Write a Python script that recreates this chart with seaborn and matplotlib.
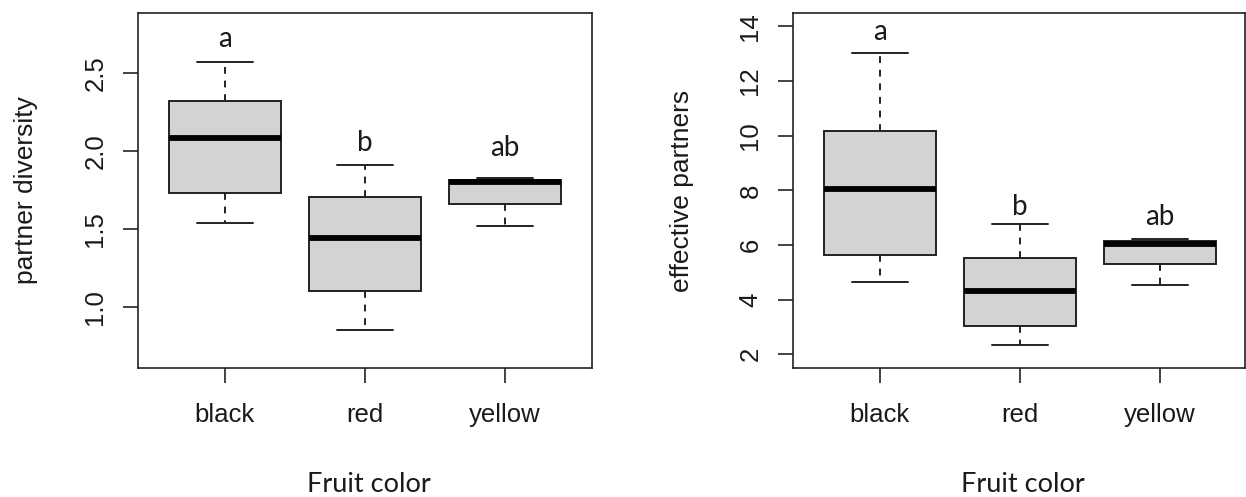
import numpy as np
import pandas as pd
import matplotlib.pyplot as plt
import seaborn as sns

sns.set_theme(style="white")
plt.rcParams["font.family"] = ["Liberation Sans", "DejaVu Sans"]

# ──────────────────────────────────────────────
# Data: five-number summaries (min, Q1, median, Q3, max)
# ──────────────────────────────────────────────
fruit_colors = ["black", "red", "yellow"]

diversity_black = [1.54, 1.733, 2.083, 2.323, 2.57]
diversity_red = [0.857, 1.103, 1.444, 1.707, 1.912]
diversity_yellow = [1.519, 1.660, 1.803, 1.814, 1.831]

partners_black = [4.65, 5.65, 8.06, 10.16, 13.01]
partners_red = [2.34, 3.02, 4.30, 5.54, 6.77]
partners_yellow = [4.55, 5.29, 6.05, 6.15, 6.23]

# significance letters and where they sit (data units)
sig_letters = ["a", "b", "ab"]
letter_y_div = [2.67, 2.00, 1.97]
letter_y_eff = [13.5, 7.1, 6.75]

div_ticks = [1.0, 1.5, 2.0, 2.5]
eff_ticks = [2, 4, 6, 8, 10, 12, 14]


def long_df(groups, name):
    rows = []
    for color, vals in zip(fruit_colors, groups):
        for v in vals:
            rows.append({"Fruit color": color, name: v})
    return pd.DataFrame(rows)


div_df = long_df([diversity_black, diversity_red, diversity_yellow], "partner diversity")
eff_df = long_df([partners_black, partners_red, partners_yellow], "effective partners")

TXT = "#1a1a1a"
EDGE = "#222222"


def draw_panel(ax, df, col, ylim, yticks, ylabels, letter_y, xlim_right):
    sns.boxplot(
        data=df, x="Fruit color", y=col, order=fruit_colors, ax=ax,
        whis=np.inf, width=0.8, color="#d3d3d3", saturation=1,
        linecolor=EDGE, linewidth=1.4, showfliers=False,
        medianprops={"color": "black", "linewidth": 4.2},
        whiskerprops={"linestyle": (0, (3.5, 3.5))},
    )
    ax.set_xlim(-0.62, xlim_right)
    ax.set_ylim(*ylim)
    ax.set_yticks(yticks)
    ax.set_yticklabels(ylabels)
    plt.setp(ax.get_yticklabels(), rotation=90, va="center")

    for sp in ax.spines.values():
        sp.set_visible(True)
        sp.set_color(EDGE)
        sp.set_linewidth(1.2)
    ax.tick_params(axis="both", direction="out", length=11, width=1.2,
                   colors=EDGE, labelcolor=TXT, labelsize=18.5,
                   left=True, bottom=True)
    ax.tick_params(axis="x", pad=14)
    ax.tick_params(axis="y", pad=11)

    for i, (lab, y) in enumerate(zip(sig_letters, letter_y)):
        ax.text(i, y, lab, ha="center", va="baseline", fontsize=20,
                family=["Lato", "DejaVu Sans"], color=TXT)

    ax.set_xlabel("Fruit color", fontsize=19.5, family=["Lato", "DejaVu Sans"], color=TXT)
    ax.xaxis.label.set_va("baseline")
    ax.xaxis.set_label_coords(0.508, -0.348)
    ax.set_ylabel(col, fontsize=19, color=TXT)
    ax.yaxis.set_label_coords(-0.22, 0.5)


fig = plt.figure(figsize=(12.46, 4.97), dpi=100)
W, H = 1246, 497
ax1 = fig.add_axes([138 / W, 1 - 368 / H, 454 / W, 355 / H])
ax2 = fig.add_axes([793 / W, 1 - 368 / H, 452 / W, 355 / H])

draw_panel(ax1, div_df, "partner diversity", (0.611, 2.885), div_ticks,
           [f"{t:.1f}" for t in div_ticks], letter_y_div, 2.62)
draw_panel(ax2, eff_df, "effective partners", (1.50, 14.49), eff_ticks,
           [str(t) for t in eff_ticks], letter_y_eff, 2.606)

fig.savefig("out.png", dpi=100)
plt.close(fig)
